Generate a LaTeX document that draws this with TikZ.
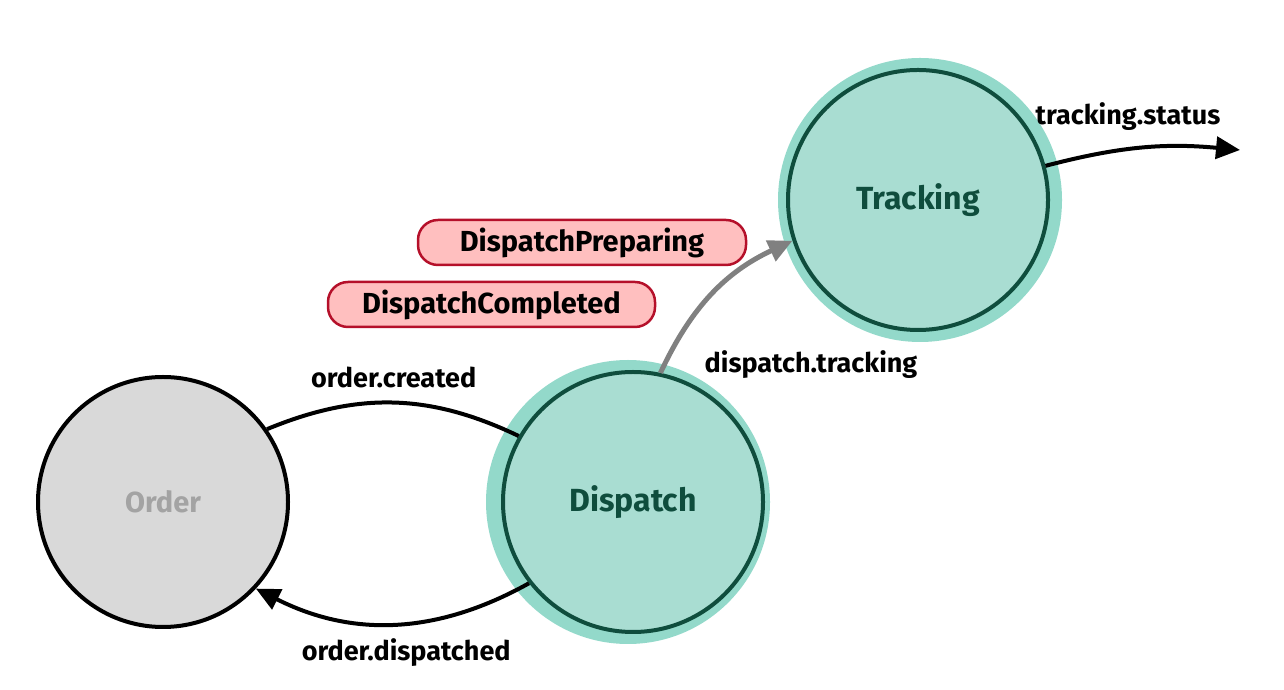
\documentclass[tikz,border=0pt]{standalone}
\usepackage{fontspec}
\setmainfont{Fira Sans}
\newfontfamily\hand{Fira Sans}
\usetikzlibrary{arrows.meta}
\definecolor{halo}{HTML}{93D9CA}
\definecolor{tealfill}{HTML}{A9DDD2}
\definecolor{darkgreen}{HTML}{0F4D3D}
\definecolor{orderfill}{HTML}{D9D9D9}
\definecolor{ordertext}{HTML}{A3A3A3}
\definecolor{boxfill}{HTML}{FFBFBF}
\definecolor{boxline}{HTML}{B5102A}
\definecolor{grayarrow}{HTML}{808080}
\tikzset{
  lbl/.style={font=\hand\bfseries\fontsize{27}{30}\selectfont, text=black, inner sep=0pt},
  statenode/.style={circle, line width=4pt, minimum size=260pt, inner sep=0pt, font=\hand\bfseries\fontsize{32}{34}\selectfont},
  active/.style={statenode, draw=darkgreen, fill=tealfill, text=darkgreen},
  halonode/.style={circle, fill=halo, minimum size=284pt, inner sep=0pt},
  eventbox/.style={draw=boxline, fill=boxfill, line width=2.5pt, rounded corners=20pt, minimum width=327pt, minimum height=45pt, inner sep=0pt, font=\hand\bfseries\fontsize{29}{31}\selectfont},
  flow/.style={line width=4pt, draw=black},
  tip/.style={-{Triangle[length=24pt,width=22pt]}}
}
\begin{document}
\begin{tikzpicture}[x=1pt,y=1pt]
\useasboundingbox (0,0) rectangle (1284,690);
% halos
\node[halonode] (dhalo) at (628,188) {};
\node[halonode] (thalo) at (920,490) {};
% states
\node[statenode, draw=black, fill=orderfill, text=ordertext, minimum size=250pt, font=\hand\bfseries\fontsize{29}{31}\selectfont] (order) at (163,188) {Order};
\node[active] (dispatch) at (633,188) {Dispatch};
\node[active] (tracking) at (918,490) {Tracking};
% event boxes
\node[eventbox, minimum width=328pt] (prep) at (582,447.5) {DispatchPreparing};
\node[eventbox] (comp) at (491.5,385.5) {DispatchCompleted};
% connectors
\draw[flow] (order.35) to[bend left=24] node[lbl, above=13pt] {order.created} (dispatch.150);
\draw[flow, tip] (dispatch.218) to[bend left=28] node[lbl, below=13pt, xshift=13pt] {order.dispatched} (order.317);
\draw[line width=5pt, draw=grayarrow, -{Triangle[length=24pt,width=22pt]}] (dispatch.78) to[bend left=20] (tracking.198);
\node[lbl] (dtl) at (811,325) {dispatch.tracking};
\coordinate (out) at (1240,540);
\draw[flow, tip] (tracking.15) to[bend left=10] (out);
\node[lbl] (tsl) at (1128,573) {tracking.status};
\end{tikzpicture}
\end{document}
